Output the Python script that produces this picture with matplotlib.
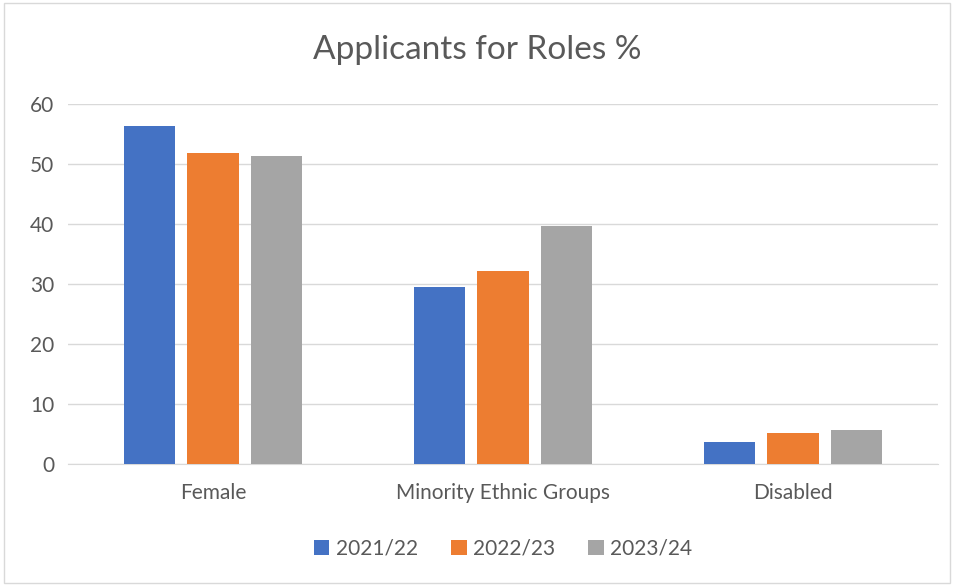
import matplotlib.pyplot as plt
import numpy as np

categories = ["Female", "Minority Ethnic Groups", "Disabled"]
years = ["2021/22", "2022/23", "2023/24"]
v_2122 = [56.4, 29.5, 3.6]
v_2223 = [51.9, 32.2, 5.2]
v_2324 = [51.4, 39.7, 5.6]
colors = ["#4472C4", "#ED7D31", "#A5A5A5"]

plt.rcParams['font.family'] = ['Lato', 'DejaVu Sans']
txt = "#595959"

fig = plt.figure(figsize=(9.55, 5.85), dpi=100)
ax = fig.add_axes([68 / 955, 121 / 585, 870 / 955, 360 / 585])

# light frame around the whole chart
fig.patches.append(plt.Rectangle((4 / 955, 2 / 585), 946 / 955, 580 / 585,
                                 transform=fig.transFigure, fill=False,
                                 edgecolor="#D9D9D9", linewidth=1))

x = np.arange(len(categories))
w = 0.176
step = 0.22
for i, (vals, lab) in enumerate(zip([v_2122, v_2223, v_2324], years)):
    ax.bar(x + (i - 1) * step, vals, w, color=colors[i], label=lab, zorder=3)

ax.set_xlim(-0.5, 2.5)
ax.set_ylim(0, 60)
ax.set_yticks(range(0, 61, 10))
ax.yaxis.grid(True, color="#D9D9D9", linewidth=1, zorder=0)
ax.set_xticks(x)
ax.set_xticklabels(categories)
ax.tick_params(axis="both", length=0, labelsize=15, colors=txt)
ax.tick_params(axis="x", pad=14)
ax.tick_params(axis="y", pad=10)
for s in ["top", "right", "left"]:
    ax.spines[s].set_visible(False)
ax.spines["bottom"].set_color("#D9D9D9")

fig.text(0.5, 535 / 585, "Applicants for Roles %", ha="center", va="center",
         fontsize=24, color=txt)

ax.legend(loc="center", bbox_to_anchor=(0.5, -0.235), ncol=3, frameon=False,
          fontsize=15, labelcolor=txt, handlelength=0.75, handleheight=0.75,
          handletextpad=0.3, columnspacing=1.6)

fig.savefig("out.png", dpi=100)
